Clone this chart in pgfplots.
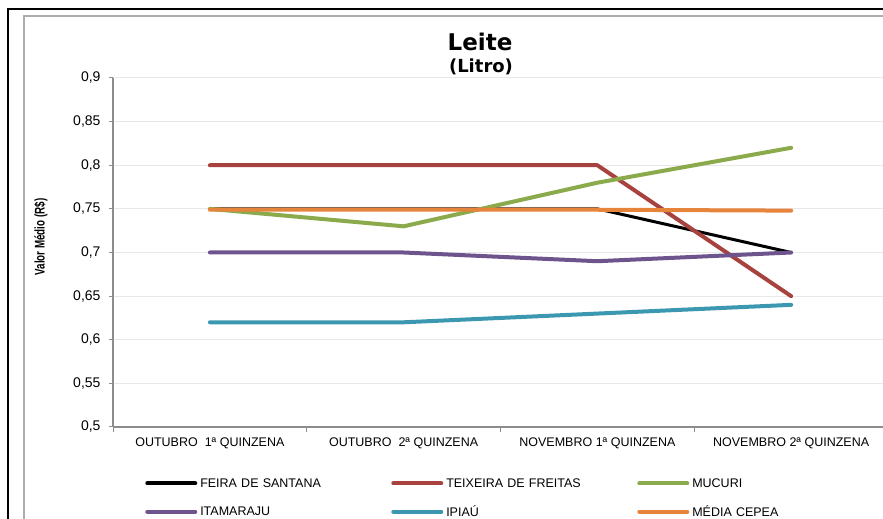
\documentclass[border=0pt]{standalone}
\usepackage{pgfplots}
\pgfplotsset{compat=1.18}
\usepackage{fontspec}
\setmainfont{Liberation Sans}
\newfontfamily\titlefont{DejaVu Sans}
\definecolor{cRed}{HTML}{A8423F}
\definecolor{cGreen}{HTML}{8AAA4B}
\definecolor{cPurple}{HTML}{6E548D}
\definecolor{cTeal}{HTML}{3B98B0}
\definecolor{cOrange}{HTML}{E6843C}
\definecolor{cGrid}{HTML}{E8E8E8}
\definecolor{cAxis}{HTML}{8C8C8C}
\begin{document}
\begin{tikzpicture}[x=1pt,y=1pt]
\path[use as bounding box] (0,0) rectangle (883,519);
% frames
\draw[black, line width=1.5pt] (8,-10) -- (8,510) -- (900,510);
\draw[gray!65, line width=2pt] (23.5,-10) -- (23.5,502.5) -- (900,502.5);
\begin{axis}[
  at={(113pt,92pt)}, anchor=south west,
  scale only axis, width=775pt, height=349pt,
  xmin=-0.5, xmax=3.5, ymin=0.5, ymax=0.9,
  xtick={0,1,2,3},
  xticklabels={OUTUBRO\ \ 1ª QUINZENA, OUTUBRO\ \ 2ª QUINZENA, NOVEMBRO 1ª QUINZENA, NOVEMBRO 2ª QUINZENA},
  major x tick style={draw=none},
  minor xtick={-0.5,0.5,1.5,2.5,3.5},
  minor x tick style={cAxis, line width=1pt},
  ytick={0.5,0.55,...,0.9},
  tick align=outside, tick pos=left,
  major tick length=4pt, minor tick length=5pt,
  y tick style={cAxis, line width=1pt},
  ymajorgrids, grid style={cGrid, line width=1pt},
  axis line style={cAxis, line width=1.5pt},
  axis x line*=bottom, axis y line*=left,
  /pgf/number format/use comma,
  /pgf/number format/fixed,
  /pgf/number format/assume math mode=true,
  yticklabel style={font=\fontsize{14}{14}\selectfont, xshift=-5pt},
  xticklabel style={font=\fontsize{12.5}{12.5}\selectfont, yshift=-3pt},
  legend columns=3,
  legend cell align=left,
  legend style={draw=none, fill=none, at={(axis description cs:0.0375,-0.135)}, anchor=north west,
    font=\fontsize{12.5}{12.5}\selectfont, row sep=13pt,
    nodes={text width=188pt, inner xsep=3pt, align=left}},
  legend image code/.code={\draw[#1, line width=4pt] (0pt,0pt) -- (48pt,0pt);},
  every axis plot/.append style={line join=round, line cap=round},
  clip=false,
]
\addplot[black, line width=3pt] coordinates {(0,0.75) (1,0.75) (2,0.75) (3,0.70)};
\addlegendentry{FEIRA DE SANTANA}
\addplot[cRed, line width=4pt] coordinates {(0,0.80) (1,0.80) (2,0.80) (3,0.65)};
\addlegendentry{TEIXEIRA DE FREITAS}
\addplot[cGreen, line width=4pt] coordinates {(0,0.75) (1,0.73) (2,0.78) (3,0.82)};
\addlegendentry{MUCURI}
\addplot[cPurple, line width=4pt] coordinates {(0,0.70) (1,0.70) (2,0.69) (3,0.70)};
\addlegendentry{ITAMARAJU}
\addplot[cTeal, line width=4pt] coordinates {(0,0.62) (1,0.62) (2,0.63) (3,0.64)};
\addlegendentry{IPIAÚ}
\addplot[cOrange, line width=4pt] coordinates {(0,0.749) (1,0.749) (2,0.749) (3,0.748)};
\addlegendentry{MÉDIA CEPEA}
\end{axis}
\node[anchor=base, font=\titlefont\bfseries\fontsize{23}{23}\selectfont] at (480,468) {Leite};
\node[anchor=base, font=\titlefont\bfseries\fontsize{18}{18}\selectfont] at (481,446) {(Litro)};
\node[rotate=90, font=\bfseries\fontsize{14}{14}\selectfont] at (41,282) {\scalebox{0.7}[1]{Valor Médio (R\$)}};
\end{tikzpicture}
\end{document}
